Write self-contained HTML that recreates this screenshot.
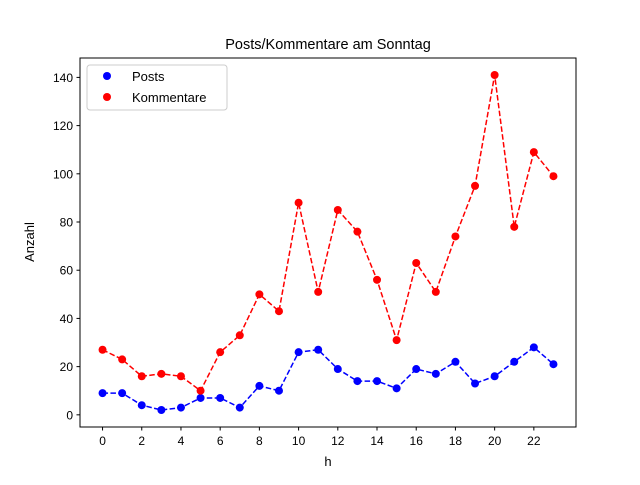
<!DOCTYPE html>
<html><head><meta charset="utf-8"><style>
body{margin:0;background:#fff}
svg{font-family:"Liberation Sans","DejaVu Sans",sans-serif}
</style></head><body>
<svg id="c" width="640" height="480" xmlns="http://www.w3.org/2000/svg">
<rect width="640" height="480" fill="#fff"/>
<text x="328" y="49" text-anchor="middle" font-size="14.5">Posts/Kommentare am Sonntag</text>
<text x="328" y="466" text-anchor="middle" font-size="13">h</text>
<text transform="translate(34,242) rotate(-90)" text-anchor="middle" font-size="13">Anzahl</text>
<g id="ticks"></g>
<g id="series"></g>
<rect x="80" y="58" width="496" height="369" fill="none" stroke="#000" stroke-width="1"/>
<g>
<rect x="87" y="65" width="140" height="45" fill="#fff" stroke="#ccc" rx="3"/>
<g><circle cx="107" cy="76" r="4" fill="blue"/><text x="132" y="81" font-size="13">Posts</text></g>
<g><circle cx="107" cy="97" r="4" fill="red"/><text x="132" y="102" font-size="13">Kommentare</text></g>
</g>
</svg>
<script>
const hours=[0,1,2,3,4,5,6,7,8,9,10,11,12,13,14,15,16,17,18,19,20,21,22,23];
const posts=[9,9,4,2,3,7,7,3,12,10,26,27,19,14,14,11,19,17,22,13,16,22,28,21];
const kommentare=[27,23,16,17,16,10,26,33,50,43,88,51,85,76,56,31,63,51,74,95,141,78,109,99];
const xTicks=[0,2,4,6,8,10,12,14,16,18,20,22];
const yTicks=[0,20,40,60,80,100,120,140];
const NS="http://www.w3.org/2000/svg";
const X=v=>80+(v+1.15)*496/25.3;
const Y=v=>427-(v+5.05)*369/153.1;
function mk(t,a,p){const e=document.createElementNS(NS,t);for(const k in a)e.setAttribute(k,a[k]);p.appendChild(e);return e;}
const tg=document.getElementById('ticks');
xTicks.forEach(v=>{
 mk('line',{x1:X(v),x2:X(v),y1:427,y2:430.5,stroke:'#000'},tg);
 const t=mk('text',{x:X(v),y:445,'text-anchor':'middle','font-size':12},tg);t.textContent=v;
 
 
});
yTicks.forEach(v=>{
 mk('line',{x1:76.5,x2:80,y1:Y(v),y2:Y(v),stroke:'#000'},tg);
 const t=mk('text',{x:73,y:Y(v)+4.5,'text-anchor':'end','font-size':12},tg);t.textContent=v;
 
 
});
const sg=document.getElementById('series');
[[posts,'blue','posts'],[kommentare,'red','kommentare']].forEach(([d,c,n])=>{
 const pl=mk('polyline',{points:d.map((v,i)=>X(hours[i])+','+Y(v)).join(' '),fill:'none',stroke:c,'stroke-width':1.5,'stroke-dasharray':'5.5,2.4'},sg);
 
 
 d.forEach((v,i)=>{
  const p=mk('circle',{cx:X(hours[i]),cy:Y(v),r:4,fill:c},sg);
  
  
 });
});
</script>
</body></html>
